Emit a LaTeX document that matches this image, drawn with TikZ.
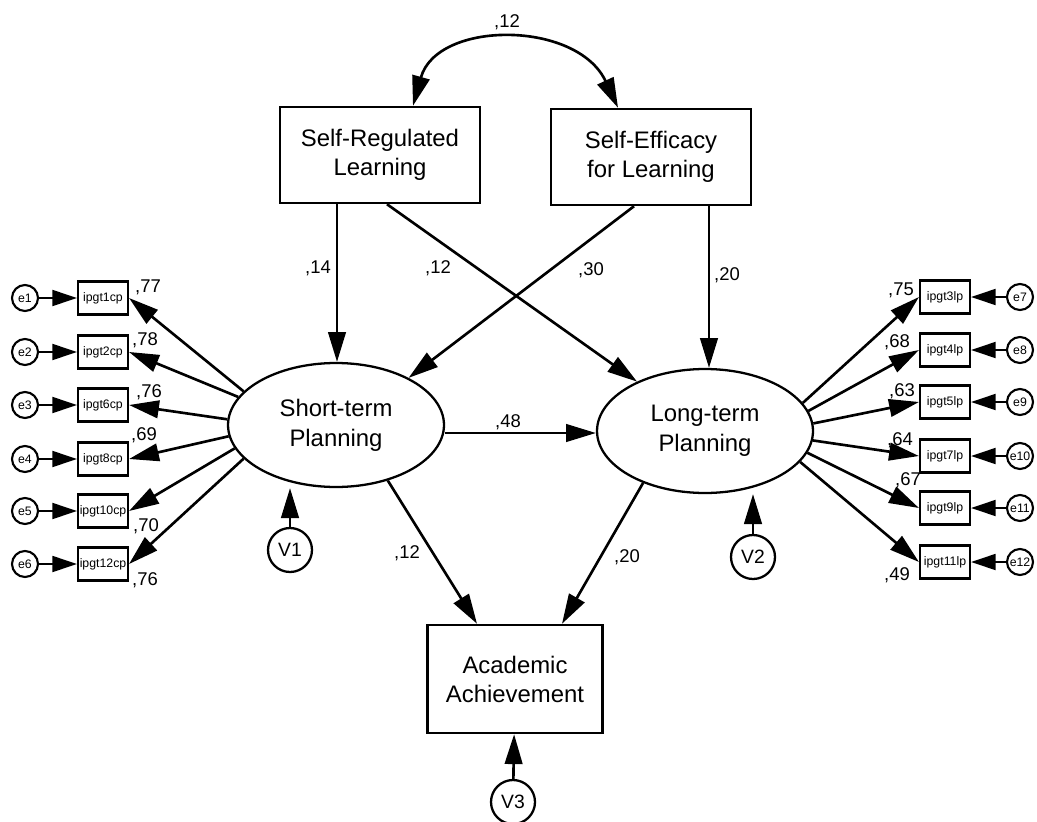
\documentclass[tikz,border=0pt]{standalone}
\usepackage{fontspec}
\setmainfont{Liberation Sans}
\usetikzlibrary{arrows.meta,shapes.geometric}

\tikzset{
  construct/.style={rectangle,draw,line width=1.4pt,minimum width=4cm,minimum height=1.92cm,align=center,font=\fontsize{13.6}{16.5}\selectfont},
  latent/.style={ellipse,draw,line width=1.3pt,minimum width=4.32cm,minimum height=2.48cm,inner sep=0pt,align=center,font=\fontsize{13.6}{17}\selectfont},
  item/.style={rectangle,draw,line width=1.2pt,minimum width=1cm,minimum height=0.66cm,inner sep=0pt,font=\fontsize{7}{8}\selectfont},
  err/.style={circle,draw,line width=1.2pt,minimum size=0.52cm,inner sep=0pt,font=\fontsize{7}{8}\selectfont},
  resid/.style={circle,draw,line width=1.3pt,minimum size=0.88cm,inner sep=0pt,font=\fontsize{11}{12}\selectfont},
  coef/.style={inner sep=0pt,font=\fontsize{10.5}{12}\selectfont},
  arr/.style={-{Triangle[length=17pt,width=10pt]},line width=1.5pt},
  earr/.style={-{Triangle[length=14pt,width=9pt]},line width=1.4pt}
}

\begin{document}
\begin{tikzpicture}[x=0.02cm,y=-0.02cm]
  \useasboundingbox (0,0) rectangle (1037,821);

  % structural part
  \node[construct] (srl) at (380,155) {Self-Regulated\\Learning};
  \node[construct] (sel) at (651,157) {Self-Efficacy\\for Learning};
  \node[latent] (stp) at (336,425) {Short-term\\Planning};
  \node[latent] (ltp) at (705,431) {Long-term\\Planning};
  \node[construct,minimum width=3.5cm,minimum height=2.16cm] (aa) at (515,679) {Academic\\Achievement};
  \node[resid] (v1) at (290,550) {V1};
  \node[resid] (v2) at (753,557) {V2};
  \node[resid] (v3) at (513,802) {V3};

  \coordinate (srlL) at ([xshift=-0.86cm]srl.south);
  \coordinate (srlR) at ([xshift=0.14cm]srl.south);
  \coordinate (selL) at ([xshift=-0.34cm]sel.south);
  \coordinate (selR) at ([xshift=1.16cm]sel.south);

  \draw[{Triangle[length=17pt,width=10pt]}-{Triangle[length=17pt,width=10pt]},line width=1.5pt]
    ([xshift=0.66cm]srl.north) .. controls (437,20) and (577,20) .. ([xshift=-0.66cm]sel.north);
  \node[coef] (r12) at (507,22) {,12};

  \draw[arr] (srlL) -- (srlL |- stp.north);
  \draw[arr] (srlR) -- (ltp.144);
  \draw[arr] (selL) -- (stp.33);
  \draw[arr] (selR) -- (selR |- ltp.north);
  \draw[arr] (stp.east |- 0,433) -- (ltp.west |- 0,433);
  \draw[arr] (stp.-47) -- ([xshift=-0.76cm]aa.north);
  \draw[arr] (ltp.-140) -- ([xshift=0.94cm]aa.north);
  \draw[arr] (v1) -- (v1 |- stp.south);
  \draw[arr] (v2) -- (v2 |- ltp.south);
  \draw[arr] (v3) -- (aa);

  \node[coef] (b14) at (318,268) {,14};
  \node[coef] (b12) at (438,268) {,12};
  \node[coef] (b30) at (591,270) {,30};
  \node[coef] (b20) at (727,275) {,20};
  \node[coef] (b48) at (508,422) {,48};
  \node[coef] (c12) at (407,553) {,12};
  \node[coef] (c20) at (627,557) {,20};

  % short-term indicators
  \node[item] (cp1) at (103,298) {ipgt1cp};
  \node[item] (cp2) at (103,352) {ipgt2cp};
  \node[item] (cp6) at (103,405) {ipgt6cp};
  \node[item] (cp8) at (103,459) {ipgt8cp};
  \node[item] (cp10) at (103,511) {ipgt10cp};
  \node[item] (cp12) at (103,564) {ipgt12cp};
  \node[err] (e1) at (25,298) {e1};
  \node[err] (e2) at (25,352) {e2};
  \node[err] (e3) at (25,405) {e3};
  \node[err] (e4) at (25,459) {e4};
  \node[err] (e5) at (25,511) {e5};
  \node[err] (e6) at (25,564) {e6};
  \draw[earr] (e1) -- (cp1);
  \draw[earr] (e2) -- (cp2);
  \draw[earr] (e3) -- (cp6);
  \draw[earr] (e4) -- (cp8);
  \draw[earr] (e5) -- (cp10);
  \draw[earr] (e6) -- (cp12);
  \draw[arr] (stp.160) -- (cp1.east);
  \draw[arr] (stp.164) -- (cp2.east);
  \draw[arr] (stp.177) -- (cp6.east);
  \draw[arr] (stp.186) -- (cp8.east);
  \draw[arr] (stp.193) -- (cp10.east);
  \draw[arr] (stp.200) -- (cp12.east);
  \node[coef] (l77) at (148,287) {,77};
  \node[coef] (l78) at (145,340) {,78};
  \node[coef] (l76) at (149,392) {,76};
  \node[coef] (l69) at (144,435) {,69};
  \node[coef] (l70) at (146,526) {,70};
  \node[coef] (l76b) at (145,580) {,76};

  % long-term indicators
  \node[item] (lp3) at (945,297) {ipgt3lp};
  \node[item] (lp4) at (945,350) {ipgt4lp};
  \node[item] (lp5) at (945,402) {ipgt5lp};
  \node[item] (lp7) at (945,456) {ipgt7lp};
  \node[item] (lp9) at (945,508) {ipgt9lp};
  \node[item] (lp11) at (945,562) {ipgt11lp};
  \node[err] (e7) at (1020,297) {e7};
  \node[err] (e8) at (1020,350) {e8};
  \node[err] (e9) at (1020,402) {e9};
  \node[err] (e10) at (1020,456) {e10};
  \node[err] (e11) at (1020,508) {e11};
  \node[err] (e12) at (1020,562) {e12};
  \draw[earr] (e7) -- (lp3);
  \draw[earr] (e8) -- (lp4);
  \draw[earr] (e9) -- (lp5);
  \draw[earr] (e10) -- (lp7);
  \draw[earr] (e11) -- (lp9);
  \draw[earr] (e12) -- (lp11);
  \draw[arr] (ltp.16) -- (lp3.west);
  \draw[arr] (ltp.11) -- (lp4.west);
  \draw[arr] (ltp.4) -- (lp5.west);
  \draw[arr] (ltp.-5) -- (lp7.west);
  \draw[arr] (ltp.-12) -- (lp9.west);
  \draw[arr] (ltp.-18) -- (lp11.west);
  \node[coef] (r75) at (901,290) {,75};
  \node[coef] (r68) at (897,342) {,68};
  \node[coef] (r63) at (902,391) {,63};
  \node[coef] (r64) at (900,440) {,64};
  \node[coef] (r67) at (908,480) {,67};
  \node[coef] (r49) at (897,575) {,49};
\end{tikzpicture}
\end{document}
